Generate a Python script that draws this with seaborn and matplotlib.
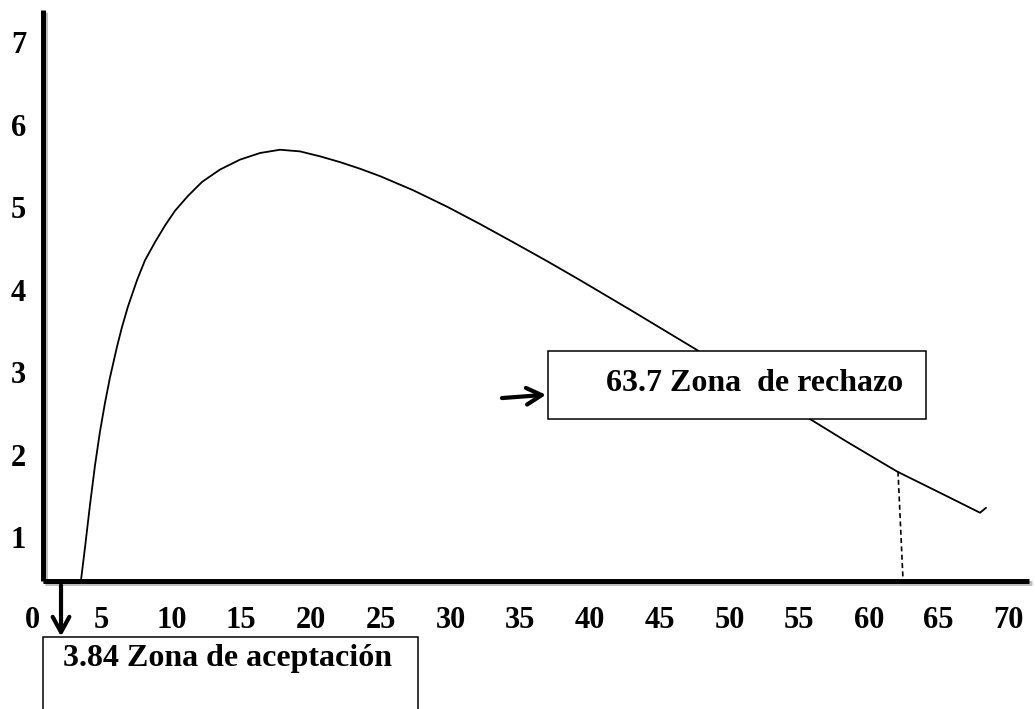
import numpy as np
import pandas as pd
import matplotlib
matplotlib.use("Agg")
import matplotlib.pyplot as plt
import matplotlib.patheffects as pe
from matplotlib.patches import Rectangle
import seaborn as sns

# ---- data ----
curve_x = [3.51, 3.80, 4.16, 4.52, 4.87, 5.23, 5.59, 6.09, 6.45, 6.88, 7.53, 8.10,
           8.82, 9.53, 10.25, 11.18, 12.19, 13.48, 14.91, 16.34, 17.78, 19.21,
           20.65, 22.08, 23.51, 24.95, 27.31, 29.75, 32.11, 34.48, 36.92, 39.28,
           43.08, 47.89, 55.63, 58.42, 62.01, 65.59, 67.96, 68.39]
curve_y = [0.48, 0.88, 1.40, 1.88, 2.28, 2.63, 2.94, 3.31, 3.55, 3.80, 4.12, 4.36,
           4.58, 4.78, 4.96, 5.14, 5.31, 5.46, 5.58, 5.66, 5.70, 5.68,
           5.62, 5.55, 5.47, 5.38, 5.21, 5.01, 4.80, 4.58, 4.35, 4.12,
           3.74, 3.25, 2.45, 2.16, 1.80, 1.50, 1.30, 1.36]
crit_x = [62.08, 62.44]
crit_y = [1.80, 0.48]
x_ticks = [0, 5, 10, 15, 20, 25, 30, 35, 40, 45, 50, 55, 60, 65, 70]
y_ticks = [1, 2, 3, 4, 5, 6, 7]
label_reject = "63.7 Zona  de rechazo"
label_accept = "3.84 Zona de aceptación"

sns.set_style("white")
plt.rcParams["font.family"] = ["Liberation Serif", "DejaVu Serif"]
plt.rcParams["font.weight"] = "bold"

fig = plt.figure(figsize=(10.35, 7.09), dpi=100)
ax = fig.add_axes([0, 0, 1, 1])
ax.set_xlim(-2.294, 71.90)
ax.set_ylim(-1.079, 7.515)

df = pd.DataFrame({"x": curve_x, "y": curve_y})
sns.lineplot(data=df, x="x", y="y", sort=False, estimator=None, color="black",
             linewidth=1.3, ax=ax, zorder=2)
ax.plot(crit_x, crit_y, color="black", linewidth=1.2, linestyle=(0, (3, 2)), zorder=2)

x0 = 0.79
y0 = 0.47
shadow = [pe.SimpleLineShadow(offset=(1.5, -1.5), shadow_color="gray", alpha=0.5),
          pe.Normal()]
for s in ["top", "right"]:
    ax.spines[s].set_visible(False)
ax.spines["left"].set_position(("data", x0))
ax.spines["left"].set_bounds(y0, 7.39)
ax.spines["bottom"].set_position(("data", y0))
ax.spines["bottom"].set_bounds(x0, 71.5)
for s in ["left", "bottom"]:
    ax.spines[s].set_linewidth(3.6)
    ax.spines[s].set_color("black")
    ax.spines[s].set_capstyle("butt")
    ax.spines[s].set_path_effects(shadow)
    ax.spines[s].set_zorder(3)

ax.set_xticks(x_ticks)
ax.set_xticklabels([str(v) for v in x_ticks])
ax.set_yticks(y_ticks)
ax.set_yticklabels([str(v) for v in y_ticks])
ax.tick_params(axis="both", length=0, labelsize=22, labelcolor="black")
ax.tick_params(axis="x", pad=18)
ax.tick_params(axis="y", pad=12)
for lab in ax.get_xticklabels() + ax.get_yticklabels():
    lab.set_fontweight("bold")
ax.set_xlabel("")
ax.set_ylabel("")

arrow_style = dict(arrowstyle="->,head_length=0.55,head_width=0.3",
                   color="black", lw=3, shrinkA=0, shrinkB=0, mutation_scale=20)

# rejection box
ax.add_patch(Rectangle((36.99, 2.44), 64.09 - 36.99, 3.26 - 2.44, facecolor="white",
                       edgecolor="black", linewidth=1.1, zorder=4))
ax.text(41.15, 2.87, label_reject, ha="left", va="center", fontsize=23,
        fontweight="bold", color="black", zorder=5)
ax.annotate("", xy=(36.85, 2.73), xytext=(33.69, 2.69), arrowprops=arrow_style, zorder=5)

# acceptance box
ax.add_patch(Rectangle((x0, -1.3), 27.67 - x0, -0.206 + 1.3, facecolor="white",
                       edgecolor="black", linewidth=1.1, zorder=4))
ax.text(2.22, -0.47, label_accept, ha="left", va="center", fontsize=23,
        fontweight="bold", color="black", zorder=5)
ax.annotate("", xy=(2.08, -0.20), xytext=(2.08, 0.42), arrowprops=arrow_style, zorder=6)

fig.savefig("out.png", dpi=100, facecolor="white")
